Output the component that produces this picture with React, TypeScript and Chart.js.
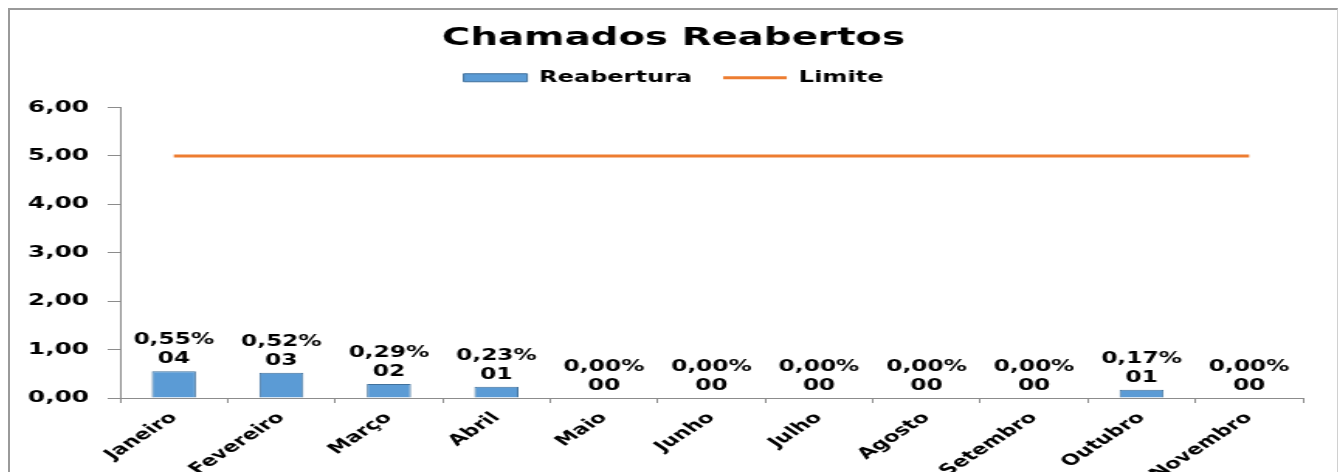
import React, { useEffect, useRef } from 'react';
import { Chart, registerables } from 'chart.js';

Chart.register(...registerables);

const months = ['Janeiro', 'Fevereiro', 'Março', 'Abril', 'Maio', 'Junho', 'Julho', 'Agosto', 'Setembro', 'Outubro', 'Novembro'];
const reabertura = [0.55, 0.52, 0.29, 0.23, 0, 0, 0, 0, 0, 0.17, 0];
const chamados = [4, 3, 2, 1, 0, 0, 0, 0, 0, 1, 0];
const limite = [5, 5, 5, 5, 5, 5, 5, 5, 5, 5, 5];
const yTicks = [0, 1, 2, 3, 4, 5, 6];

const FONT = '"DejaVu Sans", Verdana, sans-serif';
const BLUE = '#5B9BD5';
const BLUE_BORDER = '#41719C';
const ORANGE = '#ED7D31';

const fmt = (v: number) => v.toFixed(2).replace('.', ',');

const barLabels = {
  id: 'barLabels',
  afterDatasetsDraw(chart: any) {
    const meta = chart.getDatasetMeta(0);
    const ctx = chart.ctx;
    ctx.save();
    ctx.font = `bold 15px ${FONT}`;
    ctx.fillStyle = '#000';
    ctx.textAlign = 'center';
    ctx.textBaseline = 'middle';
    meta.data.forEach((el: any, i: number) => {
      const { x, y } = el.getProps(['x', 'y'], true);
      ctx.fillText(fmt(reabertura[i]) + '%', x, y - 31);
      ctx.fillText(String(chamados[i]).padStart(2, '0'), x, y - 12);
    });
    ctx.restore();
  },
};

const spacer = (pos: string, size: number) => ({
  type: 'linear',
  position: pos,
  display: true,
  grid: { display: false, drawTicks: false },
  border: { display: false },
  ticks: { display: false },
  afterFit: (s: any) => {
    if (pos === 'top') s.height = size;
    else s.width = size;
  },
});

export default function App() {
  const ref = useRef<HTMLCanvasElement | null>(null);

  useEffect(() => {
    if (!ref.current) return;
    Chart.defaults.font.family = FONT;
    const chart = new Chart(ref.current, {
      type: 'bar',
      data: {
        labels: months,
        datasets: [
          {
            type: 'bar',
            label: 'Reabertura',
            data: reabertura,
            backgroundColor: BLUE,
            borderColor: BLUE_BORDER,
            borderWidth: 1,
            barPercentage: 0.41,
            categoryPercentage: 1,
          },
          {
            type: 'line',
            label: 'Limite',
            data: limite,
            borderColor: ORANGE,
            backgroundColor: ORANGE,
            borderWidth: 3,
            pointRadius: 0,
            fill: false,
          },
        ],
      } as any,
      options: {
        responsive: false,
        animation: false,
        devicePixelRatio: 1,
        layout: { padding: 0 },
        plugins: {
          title: {
            display: true,
            text: 'Chamados Reabertos',
            color: '#000',
            font: { size: 25, weight: 'bold', family: FONT },
            padding: { top: 13, bottom: -3 },
          },
          legend: {
            position: 'top',
            labels: {
              usePointStyle: true,
              pointStyleWidth: 41,
              boxHeight: 8,
              padding: 20,
              color: '#000',
              font: { size: 15.5, weight: 'bold', family: FONT },
              generateLabels: (c: any) => {
                const items = (Chart.defaults.plugins.legend.labels as any).generateLabels(c);
                items.forEach((it: any) => {
                  if (it.text === 'Reabertura') {
                    it.pointStyle = 'rect';
                    it.fillStyle = BLUE;
                    it.strokeStyle = BLUE_BORDER;
                    it.lineWidth = 1;
                  } else {
                    it.pointStyle = 'line';
                    it.strokeStyle = ORANGE;
                    it.lineWidth = 3;
                  }
                });
                return items;
              },
            },
          },
          tooltip: { enabled: false },
        },
        scales: {
          x: {
            grid: { drawOnChartArea: false, drawTicks: true, tickLength: 5, color: '#8c8c8c', offset: true },
            border: { color: '#8c8c8c', width: 1 },
            ticks: {
              autoSkip: false,
              maxRotation: 45,
              minRotation: 45,
              color: '#000',
              padding: 6,
              font: { size: 15, weight: 'bold', family: FONT },
            },
            afterFit: (s: any) => {
              s.height = 74;
            },
          },
          y: {
            min: yTicks[0],
            max: yTicks[yTicks.length - 1],
            ticks: {
              stepSize: 1,
              color: '#000',
              padding: 12,
              font: { size: 16, weight: 'bold', family: FONT },
              callback: (v: any) => fmt(Number(v)),
            },
            grid: { drawOnChartArea: false, drawTicks: true, tickLength: 8, color: '#8c8c8c' },
            border: { color: '#8c8c8c', width: 1 },
            afterFit: (s: any) => {
              s.width = 71;
            },
          },
          padTop: spacer('top', 12),
          padRight: spacer('right', 22),
        },
      } as any,
      plugins: [barLabels],
    });
    return () => chart.destroy();
  }, []);

  return (
    <div
      style={{
        position: 'fixed',
        left: 8,
        top: 8,
        width: 1330,
        height: 464,
        boxSizing: 'border-box',
        borderTop: '2px solid #9a9a9a',
        borderLeft: '2px solid #9a9a9a',
        borderRight: '1px solid #d0d0d0',
        background: '#fff',
      }}
    >
      <canvas ref={ref} width={856} height={462} style={{ width: '1327px', height: '462px', display: 'block' }} />
    </div>
  );
}
